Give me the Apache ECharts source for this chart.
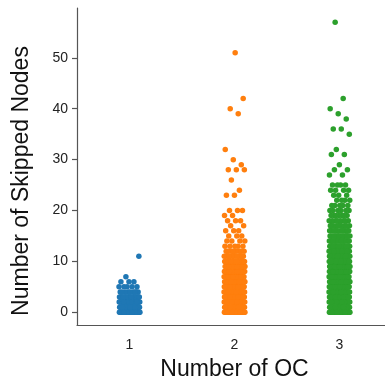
<!DOCTYPE html>
<html>
<head>
<meta charset="utf-8">
<script src="https://cdn.jsdelivr.net/npm/echarts@6/dist/echarts.min.js"></script>
<style>
  html, body { margin: 0; padding: 0; background: #fff; }
  #chart { width: 385px; height: 383px; }
</style>
</head>
<body>
<div id="chart"></div>
<script>
const categories = ['1', '2', '3']
const yTicks = [0, 10, 20, 30, 40, 50]
const colors = ['#1f77b4', '#ff7f0e', '#2ca02c']

// skipped-node value -> how many runs landed on it, per OC count
const oc1Values = [0, 1, 2, 3, 4, 5, 6, 7, 11]
const oc1Counts = [30, 30, 26, 20, 9, 5, 3, 1, 1]

const oc2Values = [0, 1, 2, 3, 4, 5, 6, 7, 8, 9, 10, 11, 12, 13, 14, 15, 16, 17, 18, 19, 20, 23, 24, 26, 28, 29, 30, 32, 39, 40, 42, 51]
const oc2Counts = [28, 28, 28, 28, 28, 27, 26, 25, 24, 22, 19, 15, 9, 5, 4, 3, 3, 2, 3, 2, 3, 2, 1, 1, 3, 1, 1, 1, 1, 1, 1, 1]

const oc3Values = [0, 1, 2, 3, 4, 5, 6, 7, 8, 9, 10, 11, 12, 13, 14, 15, 16, 17, 18, 19, 20, 21, 22, 23, 24, 25, 27, 28, 29, 31, 32, 35, 36, 38, 39, 40, 42, 57]
const oc3Counts = [28, 28, 28, 28, 28, 28, 28, 28, 27, 27, 26, 25, 24, 22, 19, 15, 12, 10, 8, 7, 6, 5, 4, 3, 4, 4, 2, 2, 1, 2, 1, 1, 2, 1, 1, 1, 1, 1]

const groups = [
  [oc1Values, oc1Counts],
  [oc2Values, oc2Counts],
  [oc3Values, oc3Counts]
]

// strip-plot style spread around each category centre (deterministic)
const stripPoints = (ci) => {
  const [vals, counts] = groups[ci]
  const pts = []
  let k = 0
  vals.forEach((v, i) => {
    for (let n = 0; n < counts[i]; n++) {
      const off = ((k * 0.6180339887 + 0.31) % 1) - 0.5
      pts.push([ci + 1 + off * 0.2, v])
      k++
    }
  })
  return pts
}

const chart = echarts.init(document.getElementById('chart'))

const axisLineStyle = { color: '#555', width: 1.2 }

chart.setOption({
  animation: false,
  grid: { left: 77, top: 8, width: 315, bottom: 58, outerBoundsMode: 'none', containLabel: false },
  xAxis: [
    {
      type: 'category',
      data: categories,
      boundaryGap: true,
      name: 'Number of OC',
      nameLocation: 'middle',
      nameGap: 33,
      nameTextStyle: { fontFamily: 'Liberation Sans', fontSize: 23, color: '#111' },
      axisLine: { onZero: false, lineStyle: axisLineStyle },
      axisTick: { alignWithLabel: true, length: 5, lineStyle: axisLineStyle },
      axisLabel: { fontFamily: 'Liberation Sans', fontSize: 14, color: '#222', margin: 13 },
      splitLine: { show: false }
    },
    { type: 'value', min: 0.5, max: 3.5, show: false }
  ],
  yAxis: {
    type: 'value',
    min: -2.5,
    max: 59.8,
    axisLine: { show: true, onZero: false, lineStyle: axisLineStyle },
    axisTick: { show: true, length: 5, lineStyle: axisLineStyle, customValues: yTicks },
    axisLabel: { fontFamily: 'Liberation Sans', fontSize: 14, color: '#222', margin: 9, customValues: yTicks },
    splitLine: { show: false }
  },
  graphic: [{
    type: 'text',
    x: 22,
    y: 181,
    rotation: Math.PI / 2,
    style: {
      text: 'Number of Skipped Nodes',
      fontFamily: 'Liberation Sans',
      fontSize: 23,
      fill: '#111',
      align: 'center',
      verticalAlign: 'middle'
    }
  }],
  series: categories.map((c, i) => ({
    type: 'scatter',
    name: c,
    xAxisIndex: 1,
    symbolSize: 5.5,
    itemStyle: { color: colors[i], opacity: 1 },
    data: stripPoints(i)
  }))
})
</script>
</body>
</html>
